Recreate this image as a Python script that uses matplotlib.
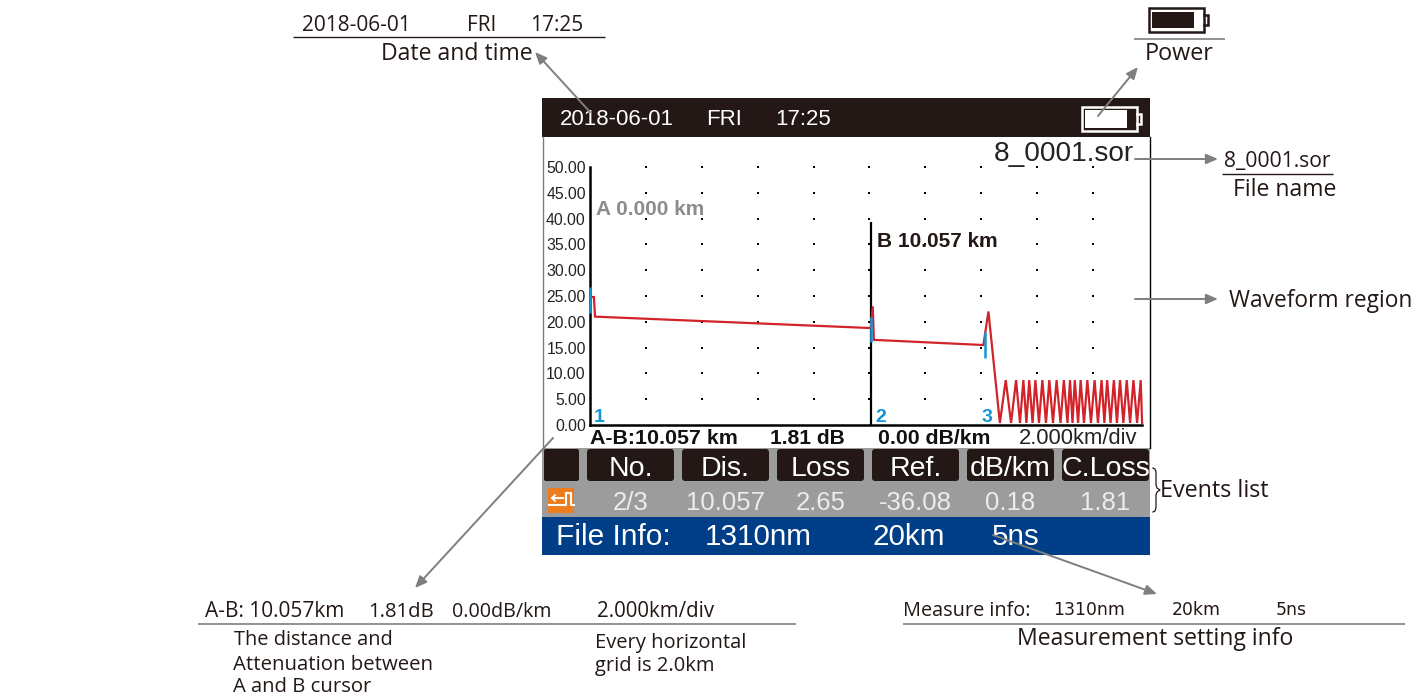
import matplotlib
matplotlib.use("Agg")
import matplotlib.pyplot as plt
from matplotlib.patches import Rectangle, FancyBboxPatch

# otdr trace, km and dB
trace_km = [0.0, 0.14, 0.18, 10.0, 10.05, 10.12, 10.16, 14.08, 14.26]
trace_db = [24.8, 24.8, 21.0, 18.8, 18.8, 23.0, 16.5, 15.5, 22.0]
valley_km = [14.67, 15.07, 15.39, 15.62, 15.84, 16.07, 16.32, 16.57, 16.84, 17.09, 17.27,
             17.47, 17.68, 17.93, 18.18, 18.41, 18.63, 18.86, 19.09, 19.33, 19.58, 19.76]
peak_km = [14.88, 15.25, 15.51, 15.72, 15.94, 16.19, 16.44, 16.70, 16.96, 17.18, 17.35,
           17.56, 17.80, 18.06, 18.31, 18.51, 18.75, 18.97, 19.21, 19.45, 19.71]
valley_db = 0.4
peak_db = 8.7

event_km = [0.0, 10.057, 14.14]
event_low = [21.7, 16.0, 13.0]
event_high = [26.7, 21.0, 18.0]
event_names = ["1", "2", "3"]
event_label_km = [0.14, 10.2, 14.0]

grid_km = [2, 4, 6, 8, 10, 12, 14, 16, 18]
grid_db = [5, 10, 15, 20, 25, 30, 35, 40, 45, 50]
y_ticks = [0, 5, 10, 15, 20, 25, 30, 35, 40, 45, 50]

col_names = ["No.", "Dis.", "Loss", "Ref.", "dB/km", "C.Loss"]
col_values = ["2/3", "10.057", "2.65", "-36.08", "0.18", "1.81"]

W, H = 1412, 696
ARIAL = "Liberation Sans"
NOTE = "Open Sans"
GREY = "#7f7f7f"
DARK = "#231815"

fig = plt.figure(figsize=(W / 100, H / 100), dpi=100, facecolor="white")

# whole figure in pixel coordinates, for the screen frame and the callouts
page = fig.add_axes([0, 0, 1, 1])
page.set_xlim(0, W)
page.set_ylim(H, 0)
page.axis("off")


def box(x0, y0, x1, y1, color, z=1):
    page.add_patch(Rectangle((x0, y0), x1 - x0, y1 - y0, fc=color, ec="none", zorder=z))


def label(x, y, s, size, color=DARK, font=NOTE, weight="normal", ha="left"):
    page.text(x, y, s, fontsize=size, color=color, family=font, weight=weight, ha=ha, va="baseline", zorder=6)


def rule(x0, x1, y, color=DARK, lw=1.0):
    page.plot([x0, x1], [y, y], color=color, lw=lw, solid_capstyle="butt")


def arrow(x0, y0, x1, y1):
    page.annotate("", xy=(x1, y1), xytext=(x0, y0), zorder=7,
                  arrowprops=dict(arrowstyle="-|>,head_length=0.7,head_width=0.3", color=GREY, lw=1.4,
                                  shrinkA=0, shrinkB=0))


def battery(x0, y0, x1, y1, fill_x0, fill_x1, edge, fill, inset):
    page.add_patch(Rectangle((x0, y0), x1 - x0, y1 - y0, fc="none", ec=edge, lw=1.8, zorder=3))
    box(fill_x0, y0 + inset, fill_x1, y1 - inset, fill, z=3)
    h = y1 - y0
    page.plot([x1, x1 + 4, x1 + 4, x1], [y0 + h * 0.28, y0 + h * 0.28, y0 + h * 0.72, y0 + h * 0.72],
              color=edge, lw=1.8, zorder=3, solid_joinstyle="miter")


# screen frame
box(542, 98, 1150, 137, DARK)
page.plot([542.5, 542.5], [137, 448], color=GREY, lw=1)
page.plot([1149.5, 1149.5], [137, 448], color="black", lw=1)
box(542, 448, 1150, 517, "#9c9c9c")
box(542, 517, 1150, 555, "#003e87")

label(560, 125, "2018-06-01", 16, "white", ARIAL)
label(706, 125, "FRI", 16, "white", ARIAL)
label(775, 125, "17:25", 16, "white", ARIAL)
battery(1082, 107, 1137, 131, 1085, 1127, "white", "white", 3)

# event table
pill_left = [586, 681, 776, 871, 966, 1061]
page.add_patch(FancyBboxPatch((544, 449), 35, 32, boxstyle="round,pad=0,rounding_size=2", fc=DARK, ec="none", zorder=2))
for x0, name, value in zip(pill_left, col_names, col_values):
    page.add_patch(FancyBboxPatch((x0 + 1, 449), 87, 32, boxstyle="round,pad=0,rounding_size=3", fc=DARK, ec="none", zorder=2))
    label(x0 + 44.5, 476, name, 20.5, "white", ARIAL, ha="center")
    label(x0 + 44.5, 510, value, 18.5, "#ececec", ARIAL, ha="center")

box(548, 488, 574, 513, "#ed7d1c", z=2)
page.plot([549, 566, 566, 571, 571, 574], [505, 505, 493, 493, 505, 505], color="white", lw=1.5, zorder=3)
page.plot([552, 563], [498, 498], color="white", lw=1.5, zorder=3)
page.plot([555, 552, 555], [495, 498, 501], color="white", lw=1.3, zorder=3)

label(556, 545, "File Info:", 21.5, "white", ARIAL)
label(705, 545, "1310nm", 21.3, "white", ARIAL)
label(873, 545, "20km", 21.3, "white", ARIAL)
label(992, 545, "5ns", 21.3, "white", ARIAL)

# waveform
ax = fig.add_axes([590 / W, 1 - 425 / H, (1142 - 590) / W, (425 - 167) / H], facecolor="none")
ax.set_xlim(0, (1142 - 590) / 27.94)
ax.set_ylim(0, 50)
for side in ["top", "right"]:
    ax.spines[side].set_visible(False)
ax.spines["left"].set_linewidth(1.8)
ax.spines["bottom"].set_linewidth(1.8)
ax.set_xticks([])
ax.set_yticks(y_ticks)
ax.set_yticklabels(["%.2f" % v for v in y_ticks], family=ARIAL, fontsize=11.3, color="#222222")
ax.tick_params(axis="y", length=0, pad=3)

for km in grid_km:
    ax.scatter([km] * len(grid_db), grid_db, s=3, marker="s", color="black", linewidths=0, zorder=2, clip_on=False)

ax.vlines(10.057, 0, 39.3, color="black", lw=1.6, zorder=3)

line_km = list(trace_km)
line_db = list(trace_db)
for i, v in enumerate(valley_km):
    line_km.append(v)
    line_db.append(valley_db)
    if i < len(peak_km):
        line_km.append(peak_km[i])
        line_db.append(peak_db)
ax.plot(line_km, line_db, color="#d2232a", lw=1.6, zorder=4, clip_on=False, solid_joinstyle="miter")

ax.vlines(event_km, event_low, event_high, color="#1296d4", lw=1.8, zorder=5, clip_on=False)
for km, name in zip(event_label_km, event_names):
    ax.text(km, 0.55, name, color="#1296d4", family=ARIAL, weight="bold", fontsize=14, zorder=6)

ax.text(0.2, 40.7, "A 0.000 km", color="#8c8c8c", family=ARIAL, weight="bold", fontsize=15)
ax.text(10.27, 34.5, "B 10.057 km", color="#231815", family=ARIAL, weight="bold", fontsize=15)

label(1134, 161, "8_0001.sor", 20.2, "#222222", ARIAL, ha="right")

label(590, 444, "A-B:10.057 km", 15.4, "#111111", ARIAL, "bold")
label(770, 444, "1.81 dB", 15.1, "#111111", ARIAL, "bold")
label(878, 444, "0.00 dB/km", 15.3, "#111111", ARIAL, "bold")
label(1019, 444, "2.000km/div", 15.8, "#222222", ARIAL)

# callouts outside the screen
label(302, 31, "2018-06-01", 15)
label(467, 31, "FRI", 15)
label(530, 31, "17:25", 15)
rule(293, 605, 37)
label(381, 60, "Date and time", 16.6)
arrow(590, 112, 535, 52)

battery(1149, 8, 1204, 32, 1152, 1194, DARK, DARK, 4)
rule(1134, 1225, 39, GREY, 1.2)
label(1145, 60, "Power", 16.8)
arrow(1098, 116, 1138, 67)

label(1224, 167, "8_0001.sor", 15.2)
rule(1222, 1333, 173.5)
label(1233, 196, "File name", 16.6)
arrow(1135, 159, 1218, 159)

arrow(1135, 299, 1218, 299)
label(1229, 307, "Waveform region", 16.4)

brace_x = [1153, 1155, 1156, 1156, 1157, 1160, 1157, 1156, 1156, 1155, 1153]
brace_y = [468, 469, 472, 485, 488, 490, 492, 495, 508, 511, 512]
page.plot(brace_x, brace_y, color=DARK, lw=0.9)
label(1160, 497, "Events list", 16.8)

arrow(553, 438, 415, 588)
label(205, 617, "A-B: 10.057km", 15)
label(368, 617, "1.81dB", 14.6)
label(452, 617, "0.00dB/km", 14.2)
label(597, 617, "2.000km/div", 14.8)
rule(198, 796, 624, GREY, 1.2)
label(234, 645, "The distance and", 14.4)
label(233, 670, "Attenuation between", 14.7)
label(233, 692, "A and B cursor", 14.6)
label(595, 648, "Every horizontal", 14.5)
label(595, 671, "grid is 2.0km", 14.5)

arrow(993, 535, 1157, 594)
label(903, 616, "Measure info:", 14.3)
label(1053, 615, "1310nm", 12.4, font="DejaVu Sans")
label(1172, 615, "20km", 12.4, font="DejaVu Sans")
label(1276, 615, "5ns", 12.4, font="DejaVu Sans")
rule(903, 1405, 624, GREY, 1.2)
label(1017, 645, "Measurement setting info", 16.6)

fig.savefig("out.png", dpi=100)
plt.close(fig)
